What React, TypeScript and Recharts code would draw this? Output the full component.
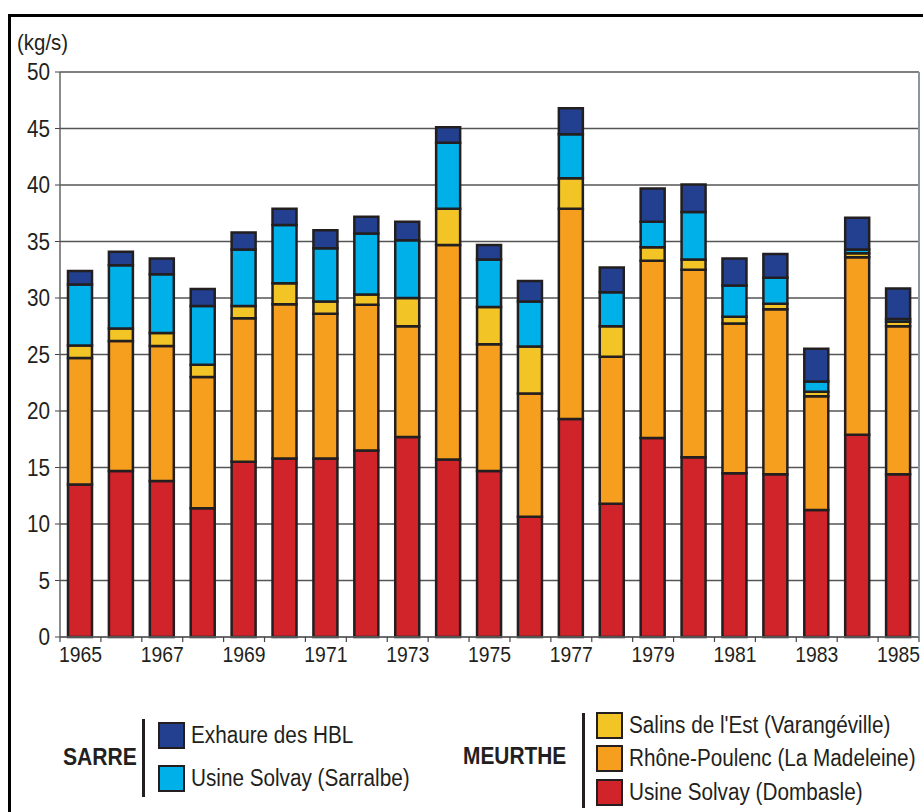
import React from "react";
import { Bar, BarChart, CartesianGrid, XAxis, YAxis } from "recharts";

const years = [
  "1965", "1966", "1967", "1968", "1969", "1970", "1971", "1972", "1973", "1974", "1975",
  "1976", "1977", "1978", "1979", "1980", "1981", "1982", "1983", "1984", "1985"
];

// Meurthe
const solvayDombasle = [13.5, 14.7, 13.8, 11.4, 15.5, 15.8, 15.8, 16.5, 17.7, 15.7, 14.7, 10.65, 19.3, 11.8, 17.6, 15.9, 14.5, 14.4, 11.25, 17.9, 14.4];
const rhonePoulenc = [11.2, 11.5, 11.95, 11.6, 12.7, 13.65, 12.8, 12.9, 9.8, 19.0, 11.2, 10.9, 18.6, 13.0, 15.7, 16.6, 13.25, 14.6, 10.05, 15.7, 13.1];
const salinsEst = [1.1, 1.1, 1.15, 1.1, 1.1, 1.85, 1.1, 0.9, 2.5, 3.2, 3.3, 4.15, 2.7, 2.7, 1.2, 0.9, 0.6, 0.5, 0.4, 0.35, 0.4];
// Sarre
const solvaySarralbe = [5.4, 5.6, 5.2, 5.2, 5.0, 5.15, 4.7, 5.4, 5.1, 5.85, 4.2, 4.0, 3.9, 3.0, 2.25, 4.2, 2.75, 2.3, 0.9, 0.35, 0.25];
const exhaureHBL = [1.2, 1.2, 1.4, 1.5, 1.5, 1.45, 1.6, 1.5, 1.65, 1.35, 1.3, 1.8, 2.3, 2.2, 2.95, 2.45, 2.4, 2.1, 2.9, 2.8, 2.7];

const yTicks = [0, 5, 10, 15, 20, 25, 30, 35, 40, 45, 50];

// no narrow font installed, so the regular sans is squeezed horizontally
const FONT = '"Liberation Sans", Arial, sans-serif';
const SQUEEZE = 0.9;
const TEXT = "#231f20";
const STROKE = "#231f20";
const colors = {
  dombasle: "#d1232a",
  rhone: "#f69e1e",
  salins: "#f2c425",
  sarralbe: "#00b1e9",
  hbl: "#233f8f"
};

const data = years.map((year, i) => ({
  year,
  dombasle: solvayDombasle[i],
  rhone: rhonePoulenc[i],
  salins: salinsEst[i],
  sarralbe: solvaySarralbe[i],
  hbl: exhaureHBL[i]
}));

const CHART_W = 923;
const CHART_H = 680;
const Y_AXIS_W = 60;
const RIGHT_W = 4;
const plotWidth = CHART_W - Y_AXIS_W - RIGHT_W;
const halfBand = plotWidth / years.length / 2;

function YearTick(props: any) {
  const { x, y, index, payload } = props;
  const i = index ?? payload?.index ?? 0;
  return (
    <g>
      {i === 0 && <line x1={x - halfBand} x2={x - halfBand} y1={y} y2={y + 5} stroke="#444" strokeWidth={1.2} />}
      <line x1={x + halfBand} x2={x + halfBand} y1={y} y2={y + 5} stroke="#444" strokeWidth={1.2} />
      {i % 2 === 0 && (
        <text
          transform={`translate(${x},${y + 25}) scale(0.88,1)`}
          textAnchor="middle"
          fontSize={22}
          fontFamily={FONT}
          fill={TEXT}
        >
          {payload.value}
        </text>
      )}
    </g>
  );
}

function ValueTick(props: any) {
  const { x, y, payload } = props;
  return (
    <text
      transform={`translate(${x},${y + 8}) scale(${SQUEEZE},1)`}
      textAnchor="end"
      fontSize={23}
      fontFamily={FONT}
      fill={TEXT}
    >
      {payload.value}
    </text>
  );
}

function Squeezed({ children, size, bold, scale = SQUEEZE }: { children: React.ReactNode; size: number; bold?: boolean; scale?: number }) {
  return (
    <span
      style={{
        display: "inline-block",
        fontSize: size,
        fontWeight: bold ? "bold" : "normal",
        color: TEXT,
        transform: `scaleX(${scale})`,
        transformOrigin: "left center",
        whiteSpace: "nowrap"
      }}
    >
      {children}
    </span>
  );
}

function LegendRow({ color, label, top, left }: { color: string; label: string; top: number; left: number }) {
  return (
    <div style={{ position: "absolute", left, top, display: "flex", alignItems: "center", whiteSpace: "nowrap" }}>
      <span
        style={{
          display: "inline-block",
          width: 23,
          height: 23,
          background: color,
          border: `2px solid ${STROKE}`,
          marginRight: 6
        }}
      />
      <Squeezed size={23}>{label}</Squeezed>
    </div>
  );
}

export default function App() {
  return (
    <div style={{ position: "absolute", left: 0, top: 0, width: 923, height: 812, overflow: "hidden", background: "#fff", fontFamily: FONT }}>
      <div
        style={{
          position: "absolute",
          left: 8,
          top: 14,
          width: 930,
          height: 820,
          borderTop: "3px solid #000",
          borderLeft: "3px solid #000"
        }}
      />
      <div style={{ position: "absolute", left: 17, top: 30 }}>
        <Squeezed size={22} scale={0.93}>(kg/s)</Squeezed>
      </div>

      <div style={{ position: "absolute", left: 0, top: 0 }}>
        <BarChart
          width={CHART_W}
          height={CHART_H}
          data={data}
          margin={{ top: 72, right: 0, left: 0, bottom: 0 }}
          barSize={24}
        >
          <CartesianGrid vertical={false} stroke="#555" strokeWidth={1.3} />
          <XAxis
            dataKey="year"
            interval={0}
            height={43}
            tickSize={0}
            tickMargin={0}
            tickLine={false}
            axisLine={{ stroke: "#666", strokeWidth: 1.5 }}
            tick={<YearTick />}
          />
          <YAxis
            domain={[0, 50]}
            ticks={yTicks}
            width={Y_AXIS_W}
            tickSize={5}
            tickMargin={5}
            interval={0}
            axisLine={{ stroke: "#666", strokeWidth: 1.5 }}
            tickLine={{ stroke: "#444" }}
            tick={<ValueTick />}
          />
          <YAxis
            yAxisId="right"
            orientation="right"
            domain={[0, 50]}
            width={RIGHT_W}
            tick={false}
            tickLine={false}
            axisLine={{ stroke: "#8a96a3", strokeWidth: 2 }}
          />
          <Bar dataKey="dombasle" stackId="a" fill={colors.dombasle} stroke={STROKE} strokeWidth={2.5} isAnimationActive={false} />
          <Bar dataKey="rhone" stackId="a" fill={colors.rhone} stroke={STROKE} strokeWidth={2.5} isAnimationActive={false} />
          <Bar dataKey="salins" stackId="a" fill={colors.salins} stroke={STROKE} strokeWidth={2.5} isAnimationActive={false} />
          <Bar dataKey="sarralbe" stackId="a" fill={colors.sarralbe} stroke={STROKE} strokeWidth={2.5} isAnimationActive={false} />
          <Bar dataKey="hbl" stackId="a" fill={colors.hbl} stroke={STROKE} strokeWidth={2.5} isAnimationActive={false} />
        </BarChart>
      </div>

      {/* legend: Sarre */}
      <div style={{ position: "absolute", left: 63, top: 743 }}>
        <Squeezed size={24} bold scale={0.88}>SARRE</Squeezed>
      </div>
      <div style={{ position: "absolute", left: 142, top: 719, width: 3, height: 78, background: TEXT }} />
      <LegendRow color={colors.hbl} label="Exhaure des HBL" left={158} top={722} />
      <LegendRow color={colors.sarralbe} label="Usine Solvay (Sarralbe)" left={158} top={765} />

      {/* legend: Meurthe */}
      <div style={{ position: "absolute", left: 463, top: 742 }}>
        <Squeezed size={24} bold scale={0.87}>MEURTHE</Squeezed>
      </div>
      <div style={{ position: "absolute", left: 582, top: 713, width: 3, height: 95, background: TEXT }} />
      <LegendRow color={colors.salins} label="Salins de l'Est (Varangéville)" left={596} top={712} />
      <LegendRow color={colors.rhone} label="Rhône-Poulenc (La Madeleine)" left={596} top={745} />
      <LegendRow color={colors.dombasle} label="Usine Solvay (Dombasle)" left={596} top={779} />
    </div>
  );
}
